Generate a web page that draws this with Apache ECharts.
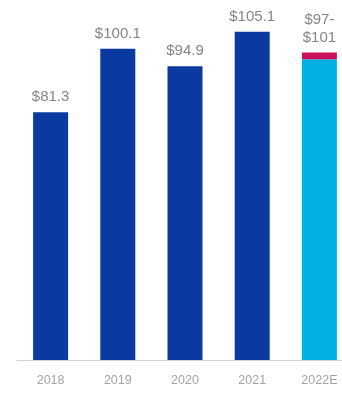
<!DOCTYPE html>
<html><head><meta charset="utf-8">
<script src="https://cdn.jsdelivr.net/npm/echarts@6/dist/echarts.min.js"></script>
<style>html,body{margin:0;padding:0;background:#fff}#c{width:342px;height:393px}</style>
</head><body><div id="c"></div>
<script>
var categories = ['2018', '2019', '2020', '2021', '2022E'];
var actualValues = [81.3, 100.1, 94.9, 105.1, null];
var estimateLow = [null, null, null, null, 97];
var estimateRange = [null, null, null, null, 2];
var valueLabels = ['$81.3', '$100.1', '$94.9', '$105.1', '$97-\n$101'];

var labelStyle = {
  show: true, position: 'top', distance: 6,
  color: '#858585', fontSize: 15, lineHeight: 18,
  fontFamily: 'Liberation Sans, Arial, sans-serif'
};

var chart = echarts.init(document.getElementById('c'), null, {renderer: 'canvas'});
chart.setOption({
  animation: false,
  grid: {left: 17, width: 336, top: 0, bottom: 33, containLabel: false, outerBoundsMode: 'none'},
  xAxis: {
    type: 'category', data: categories,
    axisTick: {show: false},
    axisLine: {lineStyle: {color: '#cfd3d8', width: 1}},
    axisLabel: {color: '#a3a3a3', fontSize: 12.5, margin: 14, fontFamily: 'Liberation Sans, Arial, sans-serif'}
  },
  yAxis: {type: 'value', min: 8, max: 114.5, show: false, splitLine: {show: false}},
  series: [
    {
      type: 'bar', stack: 'a', barWidth: 35, data: actualValues,
      itemStyle: {color: '#0a3aa0'},
      label: Object.assign({}, labelStyle, {formatter: function(p){return valueLabels[p.dataIndex];}})
    },
    {
      type: 'bar', stack: 'a', barWidth: 35, data: estimateLow,
      itemStyle: {color: '#00b0e2'}
    },
    {
      type: 'bar', stack: 'a', barWidth: 35, data: estimateRange,
      itemStyle: {color: '#cc0e5c'},
      label: Object.assign({}, labelStyle, {formatter: function(p){return valueLabels[p.dataIndex];}})
    }
  ]
});
</script></body></html>
